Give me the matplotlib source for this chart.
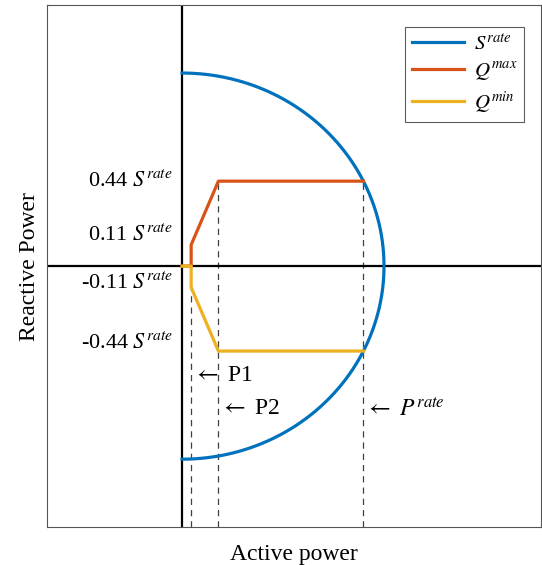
import numpy as np
import matplotlib
matplotlib.use("Agg")
import matplotlib.pyplot as plt

plt.rcParams["font.family"] = ["Liberation Serif", "DejaVu Serif"]
plt.rcParams["mathtext.fontset"] = "stix"

# capability curve parameters (per unit of S_rate)
s_rate = 1.0
q_levels = [0.11, 0.44]
p1, p2 = 0.045, 0.18
p_rate = np.sqrt(s_rate**2 - q_levels[1]**2)

q_max_p = [0.0, p1, p1, p2, p_rate]
q_max_q = [0.0, 0.0, q_levels[0], q_levels[1], q_levels[1]]
q_min_p = q_max_p
q_min_q = [-q for q in q_max_q]

label_y = [0.44, 0.16, -0.09, -0.40]
label_txt = ["0.44", "0.11", "-0.11", "-0.44"]

BLUE, ORANGE, YELLOW = "#0072BD", "#D95319", "#EDB120"

fig = plt.figure(figsize=(5.42, 5.65), dpi=100)
ax = fig.add_axes([0.087, 0.067, 0.911, 0.924])

theta = np.linspace(-np.pi / 2, np.pi / 2, 400)
ax.plot(s_rate * np.cos(theta), s_rate * np.sin(theta), color=BLUE, lw=2.3,
        label=r"$S^{rate}$", zorder=3)
ax.plot(q_max_p, q_max_q, color=ORANGE, lw=2.3, label=r"$Q^{max}$", zorder=4)
ax.plot(q_min_p, q_min_q, color=YELLOW, lw=2.3, label=r"$Q^{min}$", zorder=4)

ax.axhline(0, color="black", lw=1.6, zorder=2)
ax.axvline(0, color="black", lw=1.6, zorder=2)

ymin, ymax = -1.352, 1.352
for x, ytop in [(p1, q_levels[0]), (p2, q_levels[1]), (p_rate, q_levels[1])]:
    ax.plot([x, x], [ymin, ytop], color="#404040", lw=0.9, ls=(0, (5, 4)), zorder=1)

for y, t in zip(label_y, label_txt):
    ax.text(-0.045, y, t + r" $S^{rate}$", ha="right", va="center", fontsize=16)

ax.text(p1 + 0.008, -0.565, r"$\leftarrow$ P1", ha="left", va="center", fontsize=17)
ax.text(p2 + 0.008, -0.74, r"$\leftarrow$ P2", ha="left", va="center", fontsize=17)
ax.text(p_rate + 0.008, -0.74, r"$\leftarrow$ $P^{rate}$", ha="left", va="center",
        fontsize=17)

ax.set_xlim(-0.668, 1.777)
ax.set_ylim(ymin, ymax)
ax.set_xticks([])
ax.set_yticks([])
for sp in ax.spines.values():
    sp.set_color("#555555")
    sp.set_linewidth(0.8)

ax.set_xlabel("Active power", fontsize=17, labelpad=12)
ax.set_ylabel("Reactive Power", fontsize=17, labelpad=5)

leg = ax.legend(loc="upper right", bbox_to_anchor=(0.9656, 0.958), fontsize=15,
                fancybox=False, edgecolor="#333333", handlelength=2.5,
                borderpad=0.3, labelspacing=0.3, borderaxespad=0,
                handletextpad=0.5)
leg.get_frame().set_linewidth(0.8)

fig.savefig("out.png", dpi=100)
